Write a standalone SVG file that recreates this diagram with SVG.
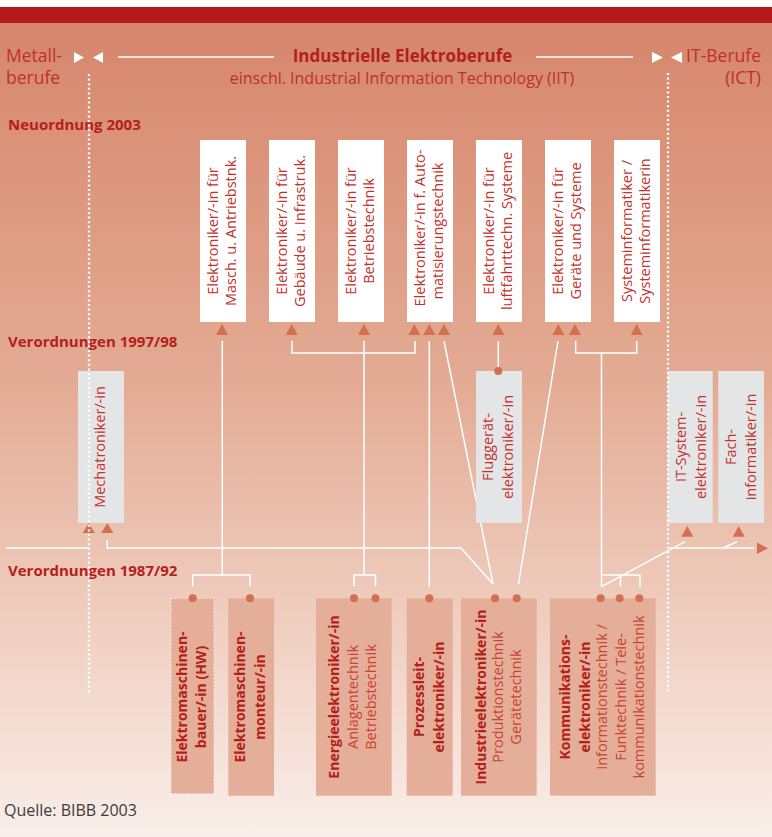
<svg xmlns="http://www.w3.org/2000/svg" width="772" height="837" viewBox="0 0 772 837">
<defs>
<linearGradient id="bg" x1="0" y1="22" x2="0" y2="837" gradientUnits="userSpaceOnUse">
<stop offset="0" stop-color="#d6866c"/>
<stop offset="0.45" stop-color="#e4ac95"/>
<stop offset="0.8" stop-color="#f2d6ca"/>
<stop offset="1" stop-color="#f9eee9"/>
</linearGradient>
<style>
text{font-family:"Open Sans","Noto Sans","Liberation Sans",sans-serif}
.hd{fill:#c0302c;font-size:17.5px}
.ttl{fill:#b31f1b;font-size:17px;font-weight:bold}
.sub{fill:#c0302c;font-size:16px}
.lvl{fill:#b5201c;font-size:15px;font-weight:bold}
.rt{fill:#c4302a;font-size:14.5px;text-anchor:middle}
.bt{fill:#b31f1b;font-size:14px;font-weight:bold;text-anchor:middle}
.lt{fill:#c94233;font-size:14.5px;text-anchor:middle}
.wbox{fill:#ffffff}
.gbox{fill:#e4e5e6}
.sbox{fill:#e5ae98}
.tri{fill:#d3704f}
.dot{fill:#d3704f}
.con{fill:none;stroke:#ffffff;stroke-width:1.5}
.dotted{fill:none;stroke:#ffffff;stroke-width:2.3;stroke-dasharray:2 2.6}
</style>
</defs>
<rect x="0" y="0" width="772" height="837" fill="#ffffff"/>
<rect x="0" y="22" width="772" height="815" fill="url(#bg)"/>
<rect x="0" y="7" width="772" height="16" fill="#b31b18"/>

<g id="header">
<text class="hd" x="6" y="62">Metall-</text>
<text class="hd" x="6" y="84">berufe</text>
<text class="hd" x="761" y="62" text-anchor="end">IT-Berufe</text>
<text class="hd" x="761" y="84" text-anchor="end">(ICT)</text>
<text class="ttl" x="402.5" y="62" text-anchor="middle">Industrielle Elektroberufe</text>
<text class="sub" x="402" y="84" text-anchor="middle">einschl. Industrial Information Technology (IIT)</text>
<polygon points="74,52 84,57.5 74,63" fill="#ffffff"/>
<polygon points="103,52 93,57.5 103,63" fill="#ffffff"/>
<polygon points="652,52 663,57.5 652,63" fill="#ffffff"/>
<polygon points="682,52 671,57.5 682,63" fill="#ffffff"/>
<line x1="118" y1="57" x2="274" y2="57" stroke="#ffffff" stroke-width="1.5"/>
<line x1="536" y1="57" x2="633" y2="57" stroke="#ffffff" stroke-width="1.5"/>
</g>

<g id="levels">
<text class="lvl" x="8" y="130">Neuordnung 2003</text>
<text class="lvl" x="8" y="347">Verordnungen 1997/98</text>
<text class="lvl" x="8" y="576">Verordnungen 1987/92</text>
</g>

<g id="connectors">
<path class="con" d="M222.3,341 V575 M192.7,586 V575 H250 V586"/>
<path class="con" d="M292,341 V353 H415 V341"/>
<path class="con" d="M364,341 V575 M354,586 V575 H375.5 V586"/>
<path class="con" d="M429.3,341 V586.5"/>
<path class="con" d="M444,341 L493,584"/>
<path class="con" d="M498.3,341 V368"/>
<path class="con" d="M558,341 L518.5,584"/>
<path class="con" d="M575.7,341 V353 H636.7 V341 M601.5,353 V586.7 M601.5,575 H640 V586.7 M620.5,575 V586.7"/>
<path class="con" d="M6,548 H89"/>
<path class="con" d="M107.3,540 V548 H461 L493,584"/>
<path class="con" d="M601.5,586.7 L685,541.7"/>
<path class="con" d="M670,548 H754"/>
<path class="con" d="M723,548 L737,541.7"/>
<polygon points="757,542.5 768,548.3 757,554" class="tri"/>
</g>

<g id="n2003-1">
<rect class="wbox" x="200" y="140" width="46" height="182"/>
<text class="rt" transform="translate(217.5,231) rotate(-90)">Elektroniker/-in für</text>
<text class="rt" transform="translate(236,231) rotate(-90)">Masch. u. Antriebstnk.</text>
<polygon class="tri" points="222,324 228,335 216,335"/>
</g>
<g id="n2003-2">
<rect class="wbox" x="269" y="140" width="46" height="182"/>
<text class="rt" transform="translate(286.5,231) rotate(-90)">Elektroniker/-in für</text>
<text class="rt" transform="translate(305,231) rotate(-90)">Gebäude u. Infrastruk.</text>
<polygon class="tri" points="291.7,324 297.7,335 285.7,335"/>
</g>
<g id="n2003-3">
<rect class="wbox" x="338" y="140" width="46" height="182"/>
<text class="rt" transform="translate(355.5,231) rotate(-90)">Elektroniker/-in für</text>
<text class="rt" transform="translate(374,231) rotate(-90)">Betriebstechnik</text>
<polygon class="tri" points="364,324 370,335 358,335"/>
</g>
<g id="n2003-4">
<rect class="wbox" x="407" y="140" width="46" height="182"/>
<text class="rt" transform="translate(424.5,228) rotate(-90)">Elektroniker/-in f. Auto-</text>
<text class="rt" transform="translate(443,231) rotate(-90)">matisierungstechnik</text>
<polygon class="tri" points="414.3,324 420.3,335 408.3,335"/>
<polygon class="tri" points="429.3,324 435.3,335 423.3,335"/>
<polygon class="tri" points="444,324 450,335 438,335"/>
</g>
<g id="n2003-5">
<rect class="wbox" x="476" y="140" width="46" height="182"/>
<text class="rt" transform="translate(493.5,231) rotate(-90)">Elektroniker/-in für</text>
<text class="rt" transform="translate(512,231) rotate(-90)">luftfahrttechn. Systeme</text>
<polygon class="tri" points="498.3,324 504.3,335 492.3,335"/>
</g>
<g id="n2003-6">
<rect class="wbox" x="545" y="140" width="46" height="182"/>
<text class="rt" transform="translate(562.5,231) rotate(-90)">Elektroniker/-in für</text>
<text class="rt" transform="translate(581,231) rotate(-90)">Geräte und Systeme</text>
<polygon class="tri" points="558.3,324 564.3,335 552.3,335"/>
<polygon class="tri" points="575,324 581,335 569,335"/>
</g>
<g id="n2003-7">
<rect class="wbox" x="614" y="140" width="46" height="182"/>
<text class="rt" transform="translate(631.5,231) rotate(-90)">Systeminformatiker /</text>
<text class="rt" transform="translate(650,231) rotate(-90)">Systeminformatikerin</text>
<polygon class="tri" points="636.7,324 642.7,335 630.7,335"/>
</g>

<g id="mechatroniker">
<rect class="gbox" x="78" y="371" width="46" height="152"/>
<text class="rt" transform="translate(105,447) rotate(-90)">Mechatroniker/-in</text>
<polygon class="tri" points="88.7,523 94.7,533 82.7,533"/>
<polygon class="tri" points="107.3,523 113.3,533 101.3,533"/>
</g>
<g id="flugg">
<rect class="gbox" x="476" y="371" width="46" height="152"/>
<text class="rt" transform="translate(492.5,447) rotate(-90)">Fluggerät-</text>
<text class="rt" transform="translate(512.5,447) rotate(-90)">elektroniker/-in</text>
<circle class="dot" cx="498.3" cy="371" r="4"/>
</g>
<g id="itsys">
<rect class="gbox" x="667.7" y="371" width="45" height="152"/>
<text class="rt" transform="translate(685.5,447) rotate(-90)">IT-System-</text>
<text class="rt" transform="translate(705.5,447) rotate(-90)">elektroniker/-in</text>
<polygon class="tri" points="687.3,526 693.3,536.7 681.3,536.7"/>
</g>
<g id="fachinf">
<rect class="gbox" x="718.3" y="371" width="45.7" height="152"/>
<text class="rt" transform="translate(735.5,447) rotate(-90)">Fach-</text>
<text class="rt" transform="translate(755.5,447) rotate(-90)">informatiker/-in</text>
<polygon class="tri" points="738.7,526 744.7,536.7 732.7,536.7"/>
</g>

<g id="emb">
<rect class="sbox" x="171" y="598.3" width="43" height="195.5"/>
<rect x="171" y="598.3" width="43" height="195.5" fill="none" stroke="#ffffff" stroke-width="0.8" stroke-dasharray="1.5 2"/>
<text class="bt" transform="translate(186.5,697) rotate(-90)">Elektromaschinen-</text>
<text class="bt" transform="translate(206,697) rotate(-90)">bauer/-in  (HW)</text>
<circle class="dot" cx="192.7" cy="598.3" r="4"/>
</g>
<g id="emm">
<rect class="sbox" x="228.3" y="598.3" width="45.7" height="197.4"/>
<text class="bt" transform="translate(244.5,697) rotate(-90)">Elektromaschinen-</text>
<text class="bt" transform="translate(264.5,697) rotate(-90)">monteur/-in</text>
<circle class="dot" cx="250" cy="598.3" r="4"/>
</g>
<g id="energie">
<rect class="sbox" x="316" y="598.3" width="75.7" height="197.4"/>
<text class="bt" transform="translate(339,697) rotate(-90)">Energieelektroniker/-in</text>
<text class="lt" transform="translate(357.5,697) rotate(-90)">Anlagentechnik</text>
<text class="lt" transform="translate(376,697) rotate(-90)">Betriebstechnik</text>
<circle class="dot" cx="354" cy="598.3" r="4"/>
<circle class="dot" cx="375.5" cy="598.3" r="4"/>
</g>
<g id="prozess">
<rect class="sbox" x="406.7" y="598.3" width="46" height="197.4"/>
<text class="bt" transform="translate(424,697) rotate(-90)">Prozessleit-</text>
<text class="bt" transform="translate(444,697) rotate(-90)">elektroniker/-in</text>
<circle class="dot" cx="429.3" cy="598.3" r="4"/>
</g>
<g id="industrie">
<rect class="sbox" x="461" y="598.3" width="75.7" height="197.4"/>
<text class="bt" transform="translate(485.6,697) rotate(-90)">Industrieelektroniker/-in</text>
<text class="lt" transform="translate(502.5,697) rotate(-90)">Produktionstechnik</text>
<text class="lt" transform="translate(520.6,697) rotate(-90)">Gerätetechnik</text>
<circle class="dot" cx="495" cy="598.3" r="4"/>
<circle class="dot" cx="516.7" cy="598.3" r="4"/>
</g>
<g id="kommunikation">
<rect class="sbox" x="550" y="598.3" width="105.7" height="197.4"/>
<text class="bt" transform="translate(570,697) rotate(-90)">Kommunikations-</text>
<text class="bt" transform="translate(589.5,697) rotate(-90)">elektroniker/-in</text>
<text class="lt" transform="translate(607,697) rotate(-90)">Informationstechnik /</text>
<text class="lt" transform="translate(625.5,697) rotate(-90)">Funktechnik / Tele-</text>
<text class="lt" transform="translate(644,697) rotate(-90)">kommunikationstechnik</text>
<circle class="dot" cx="600.7" cy="598.3" r="4"/>
<circle class="dot" cx="619.7" cy="598.3" r="4"/>
<circle class="dot" cx="639.3" cy="598.3" r="4"/>
</g>

<g id="dividers">
<line class="dotted" x1="89" y1="74" x2="89" y2="693"/>
<line class="dotted" x1="668" y1="73" x2="668" y2="693"/>
</g>

<text x="4" y="816" font-size="16" fill="#3c3c3c">Quelle: BIBB 2003</text>
</svg>
